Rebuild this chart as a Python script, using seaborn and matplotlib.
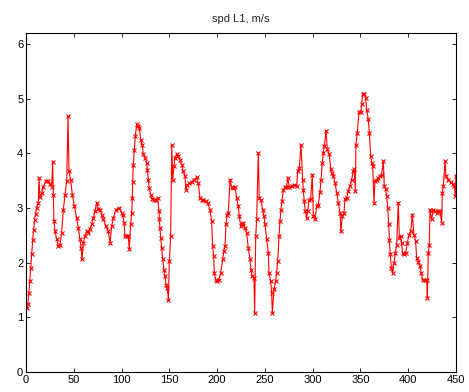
import matplotlib
matplotlib.use("Agg")
import matplotlib.pyplot as plt
import seaborn as sns
import pandas as pd

title = "spd L1, m/s"
x_ticks = [0, 50, 100, 150, 200, 250, 300, 350, 400, 450]
y_ticks = [0, 1, 2, 3, 4, 5, 6]

sample = [1, 2, 3, 4, 5, 6, 7, 8, 9, 10, 11.2, 12.9, 13.6, 14.6, 16.4, 18.1, 20.9, 23.4, 25.1, 26.9,
          27.9, 28.6, 29.3, 30.3, 32.1, 33.8, 35.6, 37.3, 39.1, 40.8, 42.6, 44.0, 45.0, 46.7, 48.5,
          50.6, 53.0, 54.8, 56.5, 57.6, 58.6, 60.0, 61.7, 63.5, 65.2, 67.0, 68.7, 70.5, 72.2, 74.0,
          75.7, 77.4, 79.2, 80.9, 83.7, 86.1, 87.9, 89.7, 91.4, 94.2, 97.3, 100.1, 101.2, 102.6,
          103.6, 105.4, 107.0, 108.1, 109.5, 110.6, 111.3, 111.6, 112.3, 113.4, 114.4, 115.8, 117.6,
          118.6, 120.0, 121.7, 122.8, 124.5, 126.3, 127.0, 128.0, 129.0, 130.5, 132.2, 134.0, 136.0,
          137.8, 139.2, 139.6, 140.2, 141.0, 142.0, 143.0, 144.4, 145.5, 146.5, 147.9, 149.0, 150.0,
          151.4, 152.5, 153.5, 154.9, 155.9, 157.7, 159.4, 161.2, 162.9, 164.6, 166.4, 167.4, 168.8,
          170.9, 173.4, 175.8, 178.6, 180.3, 182.1, 183.8, 185.5, 188.4, 190.1, 192.5, 194.3, 195.3,
          196.4, 197.1, 198.5, 200.2, 202.0, 203.7, 205.8, 207.2, 208.2, 209.3, 210.7, 211.7, 213.5,
          215.2, 217.0, 218.7, 220.5, 222.2, 223.2, 224.7, 225.7, 227.4, 229.2, 230.9, 232.6, 234.4,
          235.5, 236.8, 238.6, 239.3, 240.4, 241.4, 243.1, 244.1, 245.9, 247.7, 249.1, 250.1, 251.9,
          253.6, 254.3, 256.1, 257.1, 257.8, 259.5, 261.3, 262.3, 263.4, 264.8, 265.8, 266.8, 267.9,
          269.3, 271.0, 272.8, 273.8, 275.6, 278.0, 280.5, 283.3, 284.3, 286.0, 287.8, 289.5, 290.2,
          291.2, 292.3, 293.7, 294.8, 296.1, 297.9, 299.6, 300.7, 302.4, 304.2, 305.9, 307.7, 308.7,
          310.1, 311.1, 312.2, 314.0, 315.3, 317.4, 318.9, 319.9, 321.7, 323.4, 325.1, 326.8, 328.6,
          329.6, 331.0, 332.8, 333.8, 335.6, 337.3, 339.0, 340.8, 342.5, 343.6, 344.6, 345.3, 346.7,
          348.5, 350.2, 351.3, 352.3, 354.0, 355.5, 356.5, 358.2, 359.3, 360.7, 361.8, 362.8, 364.2,
          365.2, 367.0, 368.7, 370.4, 372.2, 373.9, 375.0, 376.4, 377.5, 378.5, 379.6, 380.2, 381.3,
          382.3, 383.7, 385.1, 386.5, 387.9, 389.6, 390.7, 392.1, 393.1, 394.2, 395.6, 397.3, 399.0,
          400.8, 402.6, 404.3, 406.0, 407.8, 408.8, 410.5, 412.3, 413.7, 415.1, 417.5, 419.3, 420.0,
          421.0, 422.0, 422.8, 424.5, 426.2, 428.0, 429.8, 431.5, 433.2, 435.0, 435.7, 436.7, 438.5,
          439.5, 442.0, 444.4, 446.6, 448.3, 449.3, 450.0]

speed = [1.17, 1.25, 1.45, 1.66, 1.90, 2.16, 2.41, 2.60, 2.78, 2.89, 3.00, 3.10, 3.54, 3.20, 3.27, 3.39,
         3.49, 3.49, 3.43, 3.39, 3.84, 3.24, 2.76, 2.58, 2.43, 2.30, 2.33, 2.55, 2.97, 3.24, 3.49, 4.68,
         3.67, 3.52, 3.24, 3.03, 2.82, 2.63, 2.43, 2.27, 2.06, 2.36, 2.49, 2.58, 2.55, 2.61, 2.70, 2.82,
         2.94, 3.10, 2.99, 2.97, 2.88, 2.79, 2.67, 2.58, 2.36, 2.67, 2.82, 2.97, 3.00, 2.91, 2.88, 2.73,
         2.48, 2.48, 2.48, 2.25, 2.70, 2.91, 3.18, 3.48, 3.79, 4.06, 4.31, 4.53, 4.50, 4.47, 4.25, 4.16,
         3.98, 3.92, 3.82, 3.70, 3.52, 3.36, 3.24, 3.16, 3.15, 3.15, 3.18, 2.94, 2.79, 2.63, 2.45, 2.27,
         2.06, 1.87, 1.75, 1.60, 1.54, 1.32, 2.03, 2.48, 4.16, 3.52, 3.76, 3.92, 3.98, 3.95, 3.88, 3.79,
         3.67, 3.58, 3.33, 3.42, 3.45, 3.48, 3.52, 3.56, 3.45, 3.18, 3.15, 3.15, 3.12, 3.09, 2.97, 2.76,
         2.30, 2.12, 1.81, 1.69, 1.66, 1.69, 1.81, 2.06, 2.21, 2.30, 2.70, 2.88, 2.91, 3.52, 3.39, 3.36,
         3.38, 3.18, 3.03, 2.85, 2.67, 2.70, 2.73, 2.63, 2.55, 2.27, 2.06, 1.87, 1.75, 1.72, 1.08, 2.48,
         2.79, 4.01, 3.18, 3.15, 2.97, 2.85, 2.70, 2.43, 2.18, 1.81, 1.66, 1.45, 1.08, 1.51, 1.66, 1.81,
         2.03, 2.48, 2.76, 2.97, 3.12, 3.33, 3.38, 3.39, 3.55, 3.38, 3.40, 3.42, 3.40, 3.67, 3.73, 4.16,
         3.52, 3.33, 3.12, 2.94, 2.82, 2.94, 3.15, 3.16, 3.61, 2.85, 2.79, 3.03, 3.06, 3.30, 3.52, 3.82,
         4.01, 4.13, 4.41, 4.07, 3.98, 3.71, 3.64, 3.58, 3.46, 3.28, 3.10, 2.91, 2.57, 2.85, 2.91, 3.16,
         3.19, 3.31, 3.40, 3.52, 3.67, 3.71, 3.31, 4.16, 4.38, 4.75, 4.75, 4.90, 5.08, 5.08, 5.02, 4.80,
         4.62, 4.38, 3.95, 3.83, 3.77, 3.10, 3.49, 3.52, 3.55, 3.58, 3.61, 3.86, 3.40, 3.34, 3.22, 3.00,
         2.70, 2.42, 2.15, 1.90, 1.81, 1.99, 2.17, 2.33, 3.10, 2.45, 2.48, 2.36, 2.17, 2.15, 2.17, 2.36,
         2.51, 2.57, 2.88, 2.51, 2.39, 2.08, 2.02, 1.93, 1.81, 1.68, 1.68, 1.68, 1.35, 2.17, 2.33, 2.97,
         2.79, 2.97, 2.94, 2.91, 2.94, 2.94, 2.73, 3.28, 3.40, 3.86, 3.58, 3.52, 3.47, 3.43, 3.40, 3.22,
         3.58]

df = pd.DataFrame({"sample": sample, "speed": speed})

sns.set_style("white")
plt.rcParams["font.family"] = ["Liberation Sans", "DejaVu Sans"]

fig = plt.figure(figsize=(4.69, 3.92), dpi=100)
ax = fig.add_axes([26 / 469, 1 - 372 / 392, 430 / 469, 339 / 392])

sns.lineplot(data=df, x="sample", y="speed", ax=ax, color="red", linewidth=0.8,
             marker="x", markersize=3.4, markeredgewidth=0.8, markeredgecolor="red",
             estimator=None, sort=False)

ax.set_xlim(0, 450)
ax.set_ylim(0, 6.2)
ax.set_xticks(x_ticks)
ax.set_yticks(y_ticks)
ax.set_xticklabels([str(t) for t in x_ticks], fontsize=8)
ax.set_yticklabels([str(t) for t in y_ticks], fontsize=8)
ax.set_xlabel("")
ax.set_ylabel("")
ax.set_title(title, fontsize=8, pad=8)
ax.tick_params(direction="in", length=3, width=0.6, top=True, right=True,
               bottom=True, left=True, pad=2, colors="black")
for s in ax.spines.values():
    s.set_color("black")
    s.set_linewidth(0.8)

fig.savefig("out.png", dpi=100)
